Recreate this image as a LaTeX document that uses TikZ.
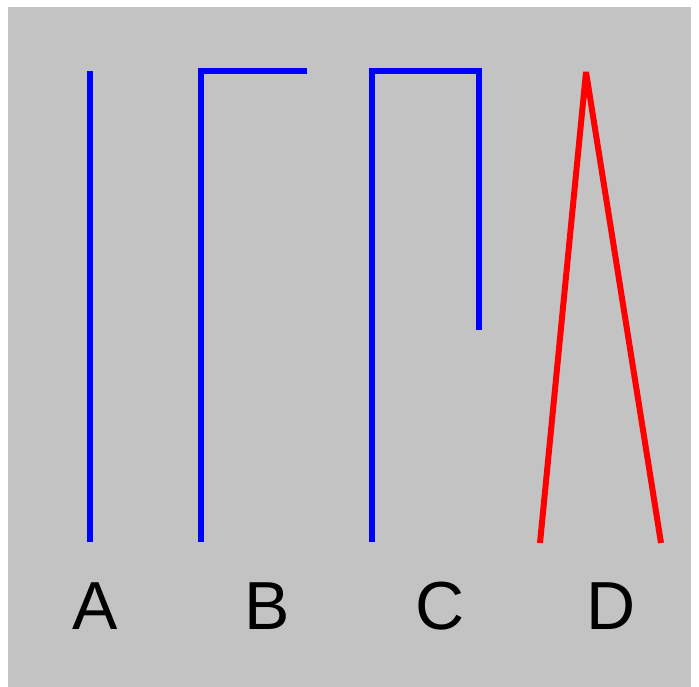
\documentclass[tikz,border=0pt]{standalone}
\usepackage{fontspec}
\setmainfont{Liberation Sans}
\definecolor{bggrey}{RGB}{195,195,195}
\tikzset{
  blueline/.style={draw=blue, line width=6pt, line cap=butt, line join=miter},
  redline/.style={draw=red, line width=6pt, line cap=butt, line join=bevel},
  lbl/.style={anchor=base, inner sep=0pt, font=\fontsize{68}{68}\selectfont, text=black}
}
\begin{document}
\begin{tikzpicture}[x=1pt,y=-1pt]
\useasboundingbox (0,0) rectangle (699,687);
\fill[bggrey] (8,7) rectangle (691,687);
% A
\coordinate (a1) at (89.5,71);
\coordinate (a2) at (89.5,542);
\draw[blueline] (a1) -- (a2);
% B
\coordinate (b1) at (200.5,542);
\coordinate (b2) at (200.5,71);
\coordinate (b3) at (307,71);
\draw[blueline] (b1) -- (b2) -- (b3);
% C
\coordinate (c1) at (371.5,542);
\coordinate (c2) at (371.5,71);
\coordinate (c3) at (478.5,71);
\coordinate (c4) at (478.5,330);
\draw[blueline] (c1) -- (c2) -- (c3) -- (c4);
% D
\coordinate (d1) at (540,543);
\coordinate (d2) at (586,72);
\coordinate (d3) at (661,543);
\draw[redline] (d1) -- (d2) -- (d3);
% labels
\node[lbl] (la) at (95,629) {A};
\node[lbl] (lb) at (267,629) {B};
\node[lbl] (lc) at (440,629) {C};
\node[lbl] (ld) at (611.5,629) {D};
\end{tikzpicture}
\end{document}
